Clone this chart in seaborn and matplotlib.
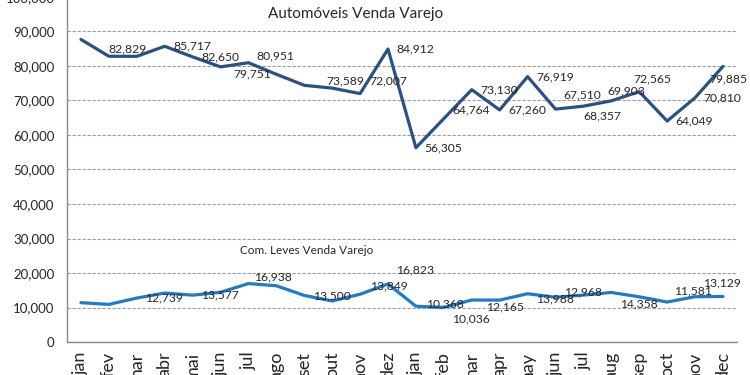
import matplotlib
matplotlib.use("Agg")
import matplotlib.pyplot as plt
import numpy as np
import pandas as pd
import seaborn as sns

# month labels (two years)
months = ["jan", "fev", "mar", "abr", "mai", "jun", "jul", "ago", "set", "out", "nov", "dez",
          "jan", "feb", "mar", "apr", "may", "jun", "jul", "aug", "sep", "oct", "nov", "dec"]

autos = [87700, 82829, 82800, 85717, 82650, 79751, 80951, 77600, 74400, 73589, 72007, 84912,
         56305, 64764, 73130, 67260, 76919, 67510, 68357, 69903, 72565, 64049, 70810, 79885]
leves = [11400, 10900, 12739, 14200, 13577, 14400, 16938, 16300, 13500, 11900, 13849, 16823,
         10368, 10036, 12165, 12150, 13988, 12968, 13600, 14358, 13100, 11581, 13129, 13200]

# which points carry a data label (index -> label offset in points)
autos_labels = {1: (0, 5), 3: (6, 0), 4: (6, 0), 5: (9, -5), 6: (6, 5), 9: (-4, 5), 10: (7, 9),
                11: (6, 0), 12: (6, 0), 13: (6, 6), 14: (6, 0), 15: (6, 0), 16: (6, 0),
                17: (6, 10), 18: (0, -7), 19: (-3, 7), 20: (-4, 9), 21: (6, 0), 22: (6, 0),
                23: (-10, -9)}
leves_labels = {2: (6, 0), 4: (6, 0), 6: (4, 5), 8: (6, 0), 10: (7, 6), 11: (6, 10),
                12: (7, 2), 13: (6, -8), 14: (10, -5), 16: (6, -4), 17: (6, 4), 19: (6, -8),
                21: (5, 8), 22: (6, 10)}

c_autos = "#2a5185"
c_leves = "#1f7bc6"

sns.set_theme(style="white")
plt.rcParams["font.family"] = ["Lato", "DejaVu Sans"]

df = pd.DataFrame({
    "pos": list(range(len(months))) * 2,
    "valor": autos + leves,
    "serie": ["Automóveis"] * len(months) + ["Com. Leves"] * len(months),
})

fig = plt.figure(figsize=(7.5, 3.75), dpi=100)
ax = fig.add_axes([0.0893, 0.088, 0.8933, 0.92])

sns.lineplot(data=df, x="pos", y="valor", hue="serie",
             palette={"Automóveis": c_autos, "Com. Leves": c_leves},
             linewidth=2.3, legend=False, ax=ax)
for line in ax.lines:
    line.set_solid_joinstyle("round")

for vals, labels in ((autos, autos_labels), (leves, leves_labels)):
    for i, (dx, dy) in labels.items():
        ax.annotate(f"{vals[i]:,}", (i, vals[i]), xytext=(dx, dy), textcoords="offset points",
                    ha="left", va="center", fontsize=8.7, color="#262626")

ax.set_xlim(-0.5, len(months) - 0.5)
ax.set_ylim(0, 100000)
ax.set_yticks(np.arange(0, 100001, 10000))
ax.yaxis.set_major_formatter(matplotlib.ticker.FuncFormatter(lambda v, p: f"{int(v):,}"))
ax.yaxis.grid(True, linestyle=(0, (3, 1.5)), color="#9a9a9a", linewidth=0.8)
ax.set_axisbelow(True)

ax.set_xticks(range(len(months)))
ax.set_xticklabels(months, rotation=90, fontsize=13, color="#262626", va="top")
ax.set_xticks(np.arange(-0.5, len(months)), minor=True)
ax.tick_params(axis="x", which="major", length=0, pad=7)
ax.tick_params(axis="x", which="minor", length=5, color="#8a8a8a", width=1)
ax.tick_params(axis="y", length=4, color="#8a8a8a", labelsize=9.5, labelcolor="#262626", pad=5)
ax.set_xlabel("")
ax.set_ylabel("")

for s in ("top", "right"):
    ax.spines[s].set_visible(False)
for s in ("left", "bottom"):
    ax.spines[s].set_color("#8a8a8a")
    ax.spines[s].set_linewidth(1)

ax.text(9.85, 95200, "Automóveis Venda Varejo", ha="center", va="center", fontsize=11, color="#262626")
ax.text(5.7, 26600, "Com. Leves Venda Varejo", ha="left", va="center", fontsize=8.5, color="#262626")

fig.savefig("out.png", dpi=100)
